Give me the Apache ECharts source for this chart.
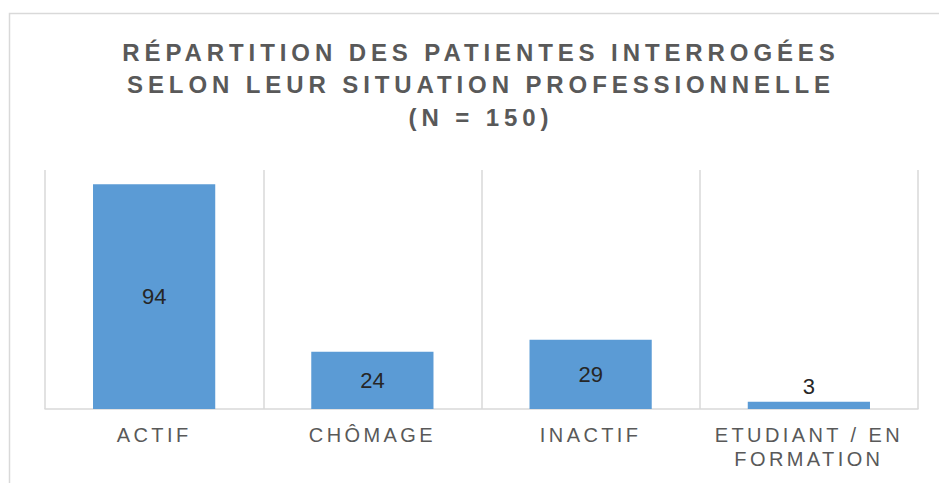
<!DOCTYPE html>
<html>
<head>
<meta charset="utf-8">
<script src="https://cdn.jsdelivr.net/npm/echarts@6/dist/echarts.min.js"></script>
<style>
  html, body { margin: 0; padding: 0; background: #fff; }
  #chart { width: 939px; height: 483px; }
</style>
</head>
<body>
<div id="chart"></div>
<script>
const titleLines = [
  "RÉPARTITION DES PATIENTES INTERROGÉES",
  "SELON LEUR SITUATION PROFESSIONNELLE",
  "(N = 150)"
];
const categories = ["ACTIF", "CHÔMAGE", "INACTIF", "ETUDIANT / EN\nFORMATION"];
const counts = [94, 24, 29, 3];
// small bars get their label above the bar
const labelOutside = [false, false, false, true];

const chart = echarts.init(document.getElementById("chart"), null, { renderer: "svg" });

chart.setOption({
  animation: false,
  graphic: [
    {
      type: "rect",
      silent: true,
      shape: { x: 9.5, y: 13.5, width: 1000, height: 1000 },
      style: { fill: "none", stroke: "#d9d9d9", lineWidth: 1.5 }
    },
    {
      type: "text",
      silent: true,
      x: 481,
      y: 36,
      style: {
        text: titleLines.join("\n"),
        font: "bold 24px 'Liberation Sans', Arial, sans-serif",
        fill: "#595959",
        align: "center",
        lineHeight: 32.5
      }
    }
  ],
  grid: { left: 45, right: 21, top: 170, bottom: 74 },
  xAxis: {
    type: "category",
    data: categories,
    axisLine: { lineStyle: { color: "#d9d9d9", width: 1.5 } },
    axisTick: { show: false },
    splitLine: { show: true, lineStyle: { color: "#d9d9d9", width: 1.5 } },
    axisLabel: {
      color: "#595959",
      fontFamily: "'Liberation Sans', Arial, sans-serif",
      fontSize: 20,
      lineHeight: 24,
      margin: 14,
      interval: 0
    }
  },
  yAxis: {
    type: "value",
    min: 0,
    max: 100,
    show: false,
    splitLine: { show: false }
  },
  series: [{
    type: "bar",
    silent: true,
    barWidth: "56%",
    data: counts.map((v, i) => ({
      value: v,
      label: { position: labelOutside[i] ? "top" : "inside", distance: 4 }
    })),
    itemStyle: { color: "#5b9bd5" },
    label: {
      show: true,
      color: "#262626",
      fontFamily: "'Liberation Sans', Arial, sans-serif",
      fontSize: 22
    }
  }]
});

// ECharts has no letter spacing, so add it on the SVG text afterwards
function spaceLetters() {
  const catLines = categories.join("\n").split("\n");
  document.querySelectorAll("#chart text").forEach(t => {
    const s = t.textContent;
    if (titleLines.includes(s)) t.style.letterSpacing = "4.9px";
    else if (catLines.includes(s)) t.style.letterSpacing = "3.4px";
  });
}
chart.on("finished", spaceLetters);
spaceLetters();
</script>
</body>
</html>
